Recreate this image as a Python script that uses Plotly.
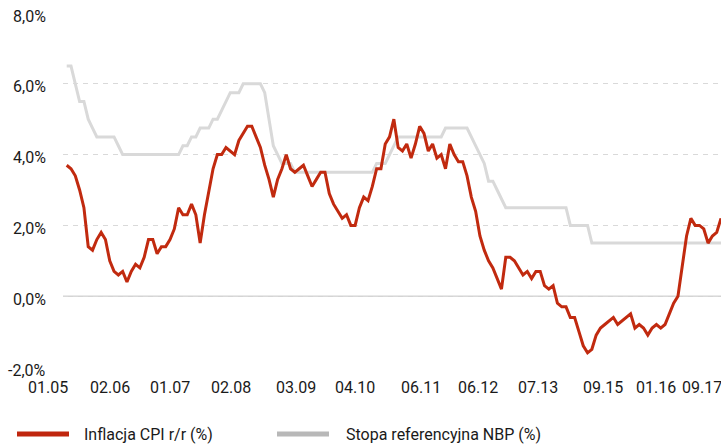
import plotly.graph_objects as go

# Monthly data, 01.2005 - 09.2017
cpi = [
    3.7, 3.6, 3.4, 3.0, 2.5, 1.4, 1.3, 1.6, 1.8, 1.6, 1.0, 0.7,      # 2005
    0.6, 0.7, 0.4, 0.7, 0.9, 0.8, 1.1, 1.6, 1.6, 1.2, 1.4, 1.4,      # 2006
    1.6, 1.9, 2.5, 2.3, 2.3, 2.6, 2.3, 1.5, 2.3, 3.0, 3.6, 4.0,      # 2007
    4.0, 4.2, 4.1, 4.0, 4.4, 4.6, 4.8, 4.8, 4.5, 4.2, 3.7, 3.3,      # 2008
    2.8, 3.3, 3.6, 4.0, 3.6, 3.5, 3.6, 3.7, 3.4, 3.1, 3.3, 3.5,      # 2009
    3.5, 2.9, 2.6, 2.4, 2.2, 2.3, 2.0, 2.0, 2.5, 2.8, 2.7, 3.1,      # 2010
    3.6, 3.6, 4.3, 4.5, 5.0, 4.2, 4.1, 4.3, 3.9, 4.3, 4.8, 4.6,      # 2011
    4.1, 4.3, 3.9, 4.0, 3.6, 4.3, 4.0, 3.8, 3.8, 3.4, 2.8, 2.4,      # 2012
    1.7, 1.3, 1.0, 0.8, 0.5, 0.2, 1.1, 1.1, 1.0, 0.8, 0.6, 0.7,      # 2013
    0.5, 0.7, 0.7, 0.3, 0.2, 0.3, -0.2, -0.3, -0.3, -0.6, -0.6, -1.0,  # 2014
    -1.4, -1.6, -1.5, -1.1, -0.9, -0.8, -0.7, -0.6, -0.8, -0.7, -0.6, -0.5,  # 2015
    -0.9, -0.8, -0.9, -1.1, -0.9, -0.8, -0.9, -0.8, -0.5, -0.2, 0.0, 0.8,  # 2016
    1.7, 2.2, 2.0, 2.0, 1.9, 1.5, 1.7, 1.8, 2.2,                       # 2017
]

ref_rate = (
    [6.5, 6.5, 6.0, 5.5, 5.5, 5.0, 4.75, 4.5, 4.5, 4.5, 4.5, 4.5]     # 2005
    + [4.25] + [4.0] * 11                                            # 2006
    + [4.0, 4.0, 4.0, 4.25, 4.25, 4.5, 4.5, 4.75, 4.75, 4.75, 5.0, 5.0]  # 2007
    + [5.25, 5.5, 5.75, 5.75, 5.75, 6.0, 6.0, 6.0, 6.0, 6.0, 5.75, 5.0]  # 2008
    + [4.25, 4.0, 3.75, 3.75, 3.75, 3.5, 3.5, 3.5, 3.5, 3.5, 3.5, 3.5]   # 2009
    + [3.5] * 12                                                     # 2010
    + [3.75, 3.75, 3.75, 4.0, 4.25, 4.5, 4.5, 4.5, 4.5, 4.5, 4.5, 4.5]   # 2011
    + [4.5, 4.5, 4.5, 4.5, 4.75, 4.75, 4.75, 4.75, 4.75, 4.75, 4.5, 4.25]  # 2012
    + [4.0, 3.75, 3.25, 3.25, 3.0, 2.75, 2.5, 2.5, 2.5, 2.5, 2.5, 2.5]   # 2013
    + [2.5] * 9 + [2.0] * 3                                          # 2014
    + [2.0, 2.0] + [1.5] * 10                                        # 2015
    + [1.5] * 12                                                     # 2016
    + [1.5] * 9                                                      # 2017
)

months = list(range(len(cpi)))

x_tick_labels = ["01.05", "02.06", "01.07", "02.08", "03.09", "04.10",
                 "06.11", "06.12", "07.13", "09.15", "01.16", "09.17"]
x_tick_positions = [-4.35, 10.1, 24.0, 38.2, 53.3, 67.0, 82.2, 95.6, 109.4, 124.5, 137.0, 147.5]

y_tick_values = [-2, 0, 2, 4, 6, 8]
y_tick_labels = ["-2,0%", "0,0%", "2,0%", "4,0%", "6,0%", "8,0%"]

names = ["Inflacja CPI r/r (%)", "Stopa referencyjna NBP (%)"]
RED = "#c12a0f"
GREY = "#d9d9d9"
FONT = "Roboto, sans-serif"
TXT = "#1a1a1a"

W, H = 721, 446
ML, MR, MT, MB = 63, 0, 13, 79
PW, PH = W - ML - MR, H - MT - MB
XMIN, XMAX = -0.86, 152

fig = go.Figure()
fig.add_trace(go.Scatter(x=months, y=ref_rate, mode="lines", name=names[1],
                         line=dict(color=GREY, width=3), showlegend=False))
fig.add_trace(go.Scatter(x=months, y=cpi, mode="lines", name=names[0],
                         line=dict(color=RED, width=3), showlegend=False))

# x tick labels as annotations (they sit at irregular positions)
for pos, lab in zip(x_tick_positions, x_tick_labels):
    fig.add_annotation(x=(pos - XMIN) / (XMAX - XMIN), y=0, xref="paper", yref="paper",
                       xanchor="center", yanchor="middle", yshift=-20,
                       text=lab, showarrow=False,
                       font=dict(family=FONT, size=16, color=TXT))

# y tick labels as annotations (slightly below their grid lines)
for val, lab in zip(y_tick_values, y_tick_labels):
    fig.add_annotation(x=0, y=val, xref="paper", yref="y", xshift=-15, yshift=-3,
                       xanchor="right", yanchor="middle", text=lab, showarrow=False,
                       font=dict(family=FONT, size=16, color=TXT))

# zero line
fig.add_hline(y=0, line=dict(color="#d4d4d4", width=1.5), layer="below")

# legend drawn manually (pixel coords)
legend_items = [(names[0], "#c0260e", 17, 69, 82), (names[1], "#b8b8b8", 277, 329, 344)]
ly = -(434 - (MT + PH)) / PH
for name, col, x0, x1, tx in legend_items:
    fig.add_shape(type="line", xref="paper", yref="paper",
                  x0=(x0 - ML) / PW, x1=(x1 - ML) / PW, y0=ly, y1=ly,
                  line=dict(color=col, width=5))
    fig.add_annotation(xref="paper", yref="paper", x=(tx - ML) / PW,
                       y=ly, text=name, showarrow=False,
                       xanchor="left", yanchor="middle",
                       font=dict(family=FONT, size=16, color=TXT))

fig.update_layout(
    width=W, height=H,
    margin=dict(l=ML, r=MR, t=MT, b=MB, pad=0),
    paper_bgcolor="white", plot_bgcolor="white",
    font=dict(family=FONT, size=16, color=TXT),
    xaxis=dict(range=[XMIN, XMAX], showgrid=False, zeroline=False,
               showticklabels=False, ticks="", showline=False),
    yaxis=dict(range=[-2, 8], tickvals=y_tick_values, showticklabels=False,
               showgrid=True, gridcolor="#d9d9d9",
               griddash="5px,5px", gridwidth=1, zeroline=False,
               ticks="", showline=False),
)

fig.write_html("out.html", config={"displayModeBar": False},
               post_script="document.body.style.margin='0';document.body.style.overflow='hidden';")
